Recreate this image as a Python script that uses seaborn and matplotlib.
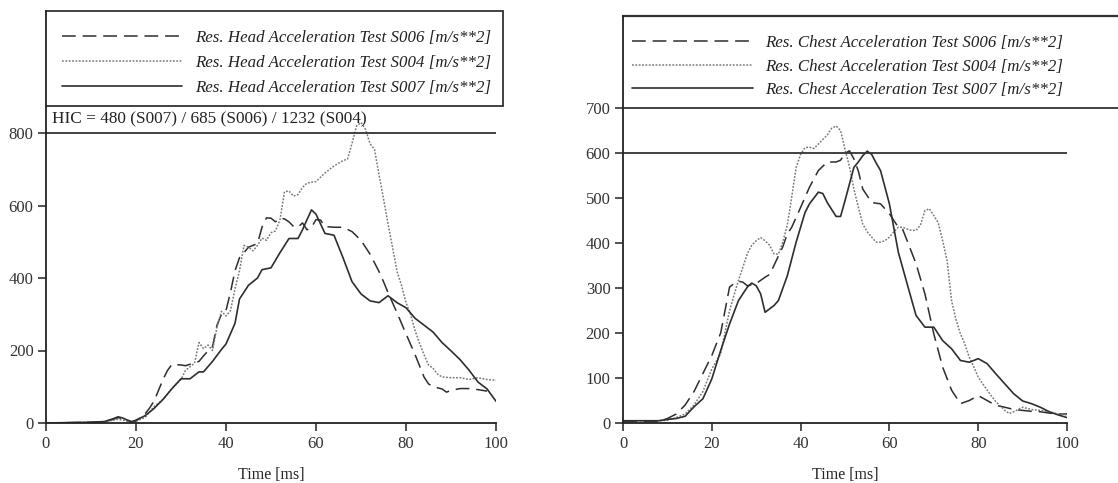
import numpy as np
import pandas as pd
import matplotlib
matplotlib.use("Agg")
import matplotlib.pyplot as plt
import seaborn as sns
from matplotlib.lines import Line2D

# ---- head acceleration (left panel) ----
head_t = [0, 5, 10, 13, 15, 16, 17, 19, 20, 22, 24, 26, 28, 30, 32, 34, 35, 37, 39, 40,
          42, 43, 45, 47, 48, 50, 52, 54, 56, 57, 58, 59, 60, 62, 64, 66, 68, 70, 72, 74,
          76, 78, 80, 82, 84, 86, 88, 90, 92, 94, 96, 98, 100]
head_s007 = [0, 1, 2, 4, 12, 17, 14, 3, 8, 20, 40, 65, 95, 122, 122, 141, 141, 170, 203, 218,
             275, 342, 380, 400, 423, 428, 470, 509, 509, 533, 561, 588, 576, 523, 518, 456, 390, 356, 337, 332,
             351, 332, 318, 289, 270, 251, 222, 199, 175, 146, 113, 94, 60]

head_t2 = [0, 5, 10, 13, 15, 16, 17, 19, 20, 22, 24, 26, 28, 30, 31, 33, 34, 35, 36, 37,
           38, 39, 40, 41, 42, 43, 44, 45, 46, 47, 48, 49, 50, 51, 52, 53, 54, 55, 56, 57,
           58, 60, 62, 64, 66, 67, 68, 69, 70, 71, 72, 73, 74, 75, 76, 77, 78, 79, 80, 81,
           82, 83, 84, 85, 86, 87, 88, 90, 92, 94, 96, 98, 100]
head_s004 = [0, 1, 2, 3, 8, 10, 8, 2, 5, 15, 45, 65, 95, 120, 145, 165, 222, 205, 215, 200,
             265, 308, 295, 310, 370, 420, 490, 485, 475, 490, 510, 504, 525, 530, 561, 638, 640, 626, 630, 650,
             662, 666, 690, 709, 724, 728, 771, 819, 829, 810, 771, 755, 685, 619, 550, 485, 418, 380, 332, 300,
             256, 220, 189, 160, 151, 135, 127, 125, 125, 120, 125, 120, 118]

head_t3 = [0, 5, 10, 13, 15, 16, 17, 19, 20, 22, 23, 24, 25, 26, 27, 28, 30, 31, 32, 33,
           34, 35, 36, 37, 38, 39, 40, 41, 42, 43, 44, 45, 46, 47, 48, 49, 50, 51, 52, 53,
           54, 55, 56, 57, 58, 59, 60, 61, 62, 64, 66, 68, 70, 72, 74, 75, 76, 78, 80, 82,
           84, 85, 86, 88, 89, 90, 92, 94, 96, 98]
head_s006 = [0, 1, 2, 4, 10, 15, 12, 4, 5, 25, 41, 60, 90, 120, 145, 162, 160, 158, 162, 165,
             170, 185, 199, 210, 270, 300, 310, 361, 420, 456, 470, 485, 490, 495, 540, 566, 565, 555, 565, 563,
             555, 542, 540, 552, 533, 540, 561, 560, 542, 540, 540, 528, 504, 466, 418, 390, 360, 304, 246, 189,
             127, 108, 100, 94, 85, 90, 95, 95, 92, 88]

# ---- chest acceleration (right panel) ----
chest_t = [0, 4, 8, 10, 12, 14, 16, 17, 18, 20, 22, 24, 26, 28, 29, 30, 31, 32, 34, 35,
           37, 39, 41, 42, 44, 45, 46, 48, 49, 50, 52, 53, 54, 55, 56, 57, 58, 60, 62, 64,
           66, 68, 70, 72, 74, 76, 78, 80, 82, 84, 86, 88, 90, 92, 94, 96, 98, 100]
chest_s007 = [5, 5, 5, 8, 10, 15, 36, 45, 54, 98, 161, 220, 272, 302, 311, 305, 287, 246, 261, 272,
              327, 402, 468, 487, 513, 510, 490, 459, 459, 494, 568, 580, 594, 604, 597, 578, 561, 487, 380, 309,
              239, 213, 213, 183, 165, 139, 135, 143, 132, 109, 87, 65, 49, 43, 35, 25, 18, 12]

chest_t2 = [0, 4, 8, 10, 12, 14, 16, 18, 20, 22, 24, 26, 28, 29, 30, 31, 32, 33, 34, 35,
            36, 37, 38, 39, 40, 41, 42, 43, 44, 45, 46, 47, 48, 49, 50, 51, 52, 53, 54, 55,
            56, 57, 58, 59, 60, 61, 62, 63, 64, 65, 66, 67, 68, 69, 70, 71, 72, 73, 74, 75,
            76, 77, 78, 79, 80, 82, 84, 85, 86, 87, 88, 89, 90, 92, 94, 96, 98, 100]
chest_s004 = [5, 5, 5, 6, 12, 20, 40, 70, 120, 154, 250, 317, 376, 395, 405, 412, 405, 395, 376, 375,
              402, 440, 502, 568, 597, 612, 613, 610, 620, 630, 640, 655, 660, 650, 608, 570, 520, 480, 442, 425,
              413, 402, 402, 405, 413, 425, 435, 435, 431, 428, 428, 440, 472, 476, 461, 445, 405, 360, 272, 230,
              198, 175, 146, 125, 102, 73, 47, 38, 28, 21, 25, 30, 35, 30, 28, 25, 20, 18]

chest_t3 = [0, 4, 8, 10, 12, 14, 16, 18, 20, 22, 24, 25, 26, 27, 28, 30, 32, 33, 34, 36,
            37, 38, 40, 42, 44, 46, 48, 49, 50, 51, 52, 53, 54, 56, 58, 60, 62, 63, 64, 66,
            68, 70, 72, 74, 76, 78, 80, 82, 84, 86, 88, 90, 92, 94, 96, 98, 100]
chest_s006 = [3, 3, 3, 10, 20, 40, 70, 110, 150, 200, 302, 310, 315, 313, 305, 310, 324, 330, 350, 392,
              420, 435, 479, 524, 561, 580, 580, 584, 599, 605, 587, 560, 520, 490, 487, 465, 435, 430, 405, 354,
              287, 198, 124, 73, 43, 50, 61, 50, 39, 35, 30, 28, 26, 25, 22, 20, 20]

x_ticks = [0, 20, 40, 60, 80, 100]
head_y_ticks = [0, 200, 400, 600, 800]
chest_y_ticks = [0, 100, 200, 300, 400, 500, 600, 700]
head_limit = 800
chest_limit = 600
hic_text = "HIC = 480 (S007) / 685 (S006) / 1232 (S004)"

sns.set_style("ticks")
plt.rcParams["font.family"] = ["Liberation Serif", "DejaVu Serif"]

DARK = "#2e2e2e"
LIGHT = "#7a7a7a"
styles = {
    "S006": dict(color=DARK, lw=1.1, dashes=(9, 4.5)),
    "S004": dict(color=LIGHT, lw=1.1, dashes=(1.2, 1.0)),
    "S007": dict(color=DARK, lw=1.2, dashes=None),
}

fig = plt.figure(figsize=(11.18, 4.83), dpi=100)
W, H = 1118, 483


def px_axes(x0, x1, ytop, ybot):
    return fig.add_axes([x0 / W, 1 - ybot / H, (x1 - x0) / W, (ybot - ytop) / H])


def draw_series(ax, t, v, key):
    st = styles[key]
    df = pd.DataFrame({"t": t, "v": v})
    sns.lineplot(data=df, x="t", y="v", ax=ax, color=st["color"], lw=st["lw"])
    line = ax.get_lines()[-1]
    if st["dashes"] is not None:
        line.set_dashes(st["dashes"])
    return line


def style_axes(ax, ymax, yticks):
    ax.set_xlim(0, 100)
    ax.set_ylim(0, ymax)
    ax.set_xticks(x_ticks)
    ax.set_yticks(yticks)
    ax.set_xlabel("Time [ms]", fontsize=11.5, labelpad=11)
    ax.set_ylabel("")
    for s in ("top", "right"):
        ax.spines[s].set_visible(False)
    for s in ("left", "bottom"):
        ax.spines[s].set_color("#222222")
        ax.spines[s].set_linewidth(1.3)
    ax.tick_params(direction="out", length=6, width=1.1, colors="#222222",
                   labelsize=12, labelcolor="#333333", pad=3)


def legend_handles(key_order):
    hs = []
    for k in key_order:
        st = styles[k]
        h = Line2D([], [], color=st["color"], lw=st["lw"])
        if st["dashes"] is not None:
            h.set_dashes(st["dashes"])
        hs.append(h)
    return hs


order = ["S006", "S004", "S007"]
legend_font = dict(family="Liberation Serif", style="italic", size=12.2)

# ---------- left panel ----------
ax1 = px_axes(46, 496, 11, 423)
head_top = 412 / 0.3625
draw_series(ax1, head_t3, head_s006, "S006")
draw_series(ax1, head_t2, head_s004, "S004")
draw_series(ax1, head_t, head_s007, "S007")
ax1.axhline(head_limit, color="#333333", lw=1.3)
style_axes(ax1, head_top, head_y_ticks)
ax1.text(1.3, 838, hic_text, fontsize=12.4, color="#222222", va="center", ha="left")

box_bottom = (423 - 106) / 412
box_right = (503 - 46) / 450
for xs, ys in (([0, box_right], [1, 1]), ([0, box_right], [box_bottom, box_bottom]),
               ([box_right, box_right], [box_bottom, 1])):
    ax1.plot(xs, ys, transform=ax1.transAxes, color="#333333", lw=1.3, clip_on=False)
labels1 = [f"Res. Head Acceleration Test {k} [m/s**2]" for k in order]
leg1 = ax1.legend(legend_handles(order), labels1, loc="upper left",
                  bbox_to_anchor=(0.002, 0.99), frameon=False, prop=legend_font,
                  handlelength=7.1, handletextpad=0.75, labelspacing=0.52)
for t in leg1.get_texts():
    t.set_color("#222222")

# ---------- right panel ----------
ax2 = px_axes(623, 1067, 16, 423)
chest_top = 407 / 0.45
draw_series(ax2, chest_t3, chest_s006, "S006")
draw_series(ax2, chest_t2, chest_s004, "S004")
draw_series(ax2, chest_t, chest_s007, "S007")
ax2.axhline(chest_limit, color="#333333", lw=1.3)
style_axes(ax2, chest_top, chest_y_ticks)

ext = (1118 - 623) / 444
ax2.axhline(700, xmin=0, xmax=ext, color="#333333", lw=1.3, clip_on=False)
ax2.plot([0, ext], [1, 1], transform=ax2.transAxes, color="#333333", lw=1.6, clip_on=False)
labels2 = [f"Res. Chest Acceleration Test {k} [m/s**2]" for k in order]
leg2 = ax2.legend(legend_handles(order), labels2, loc="upper left",
                  bbox_to_anchor=(-0.013, 0.99), frameon=False, prop=legend_font,
                  handlelength=7.1, handletextpad=0.75, labelspacing=0.44)
for t in leg2.get_texts():
    t.set_color("#222222")

fig.savefig("out.png", dpi=100)
